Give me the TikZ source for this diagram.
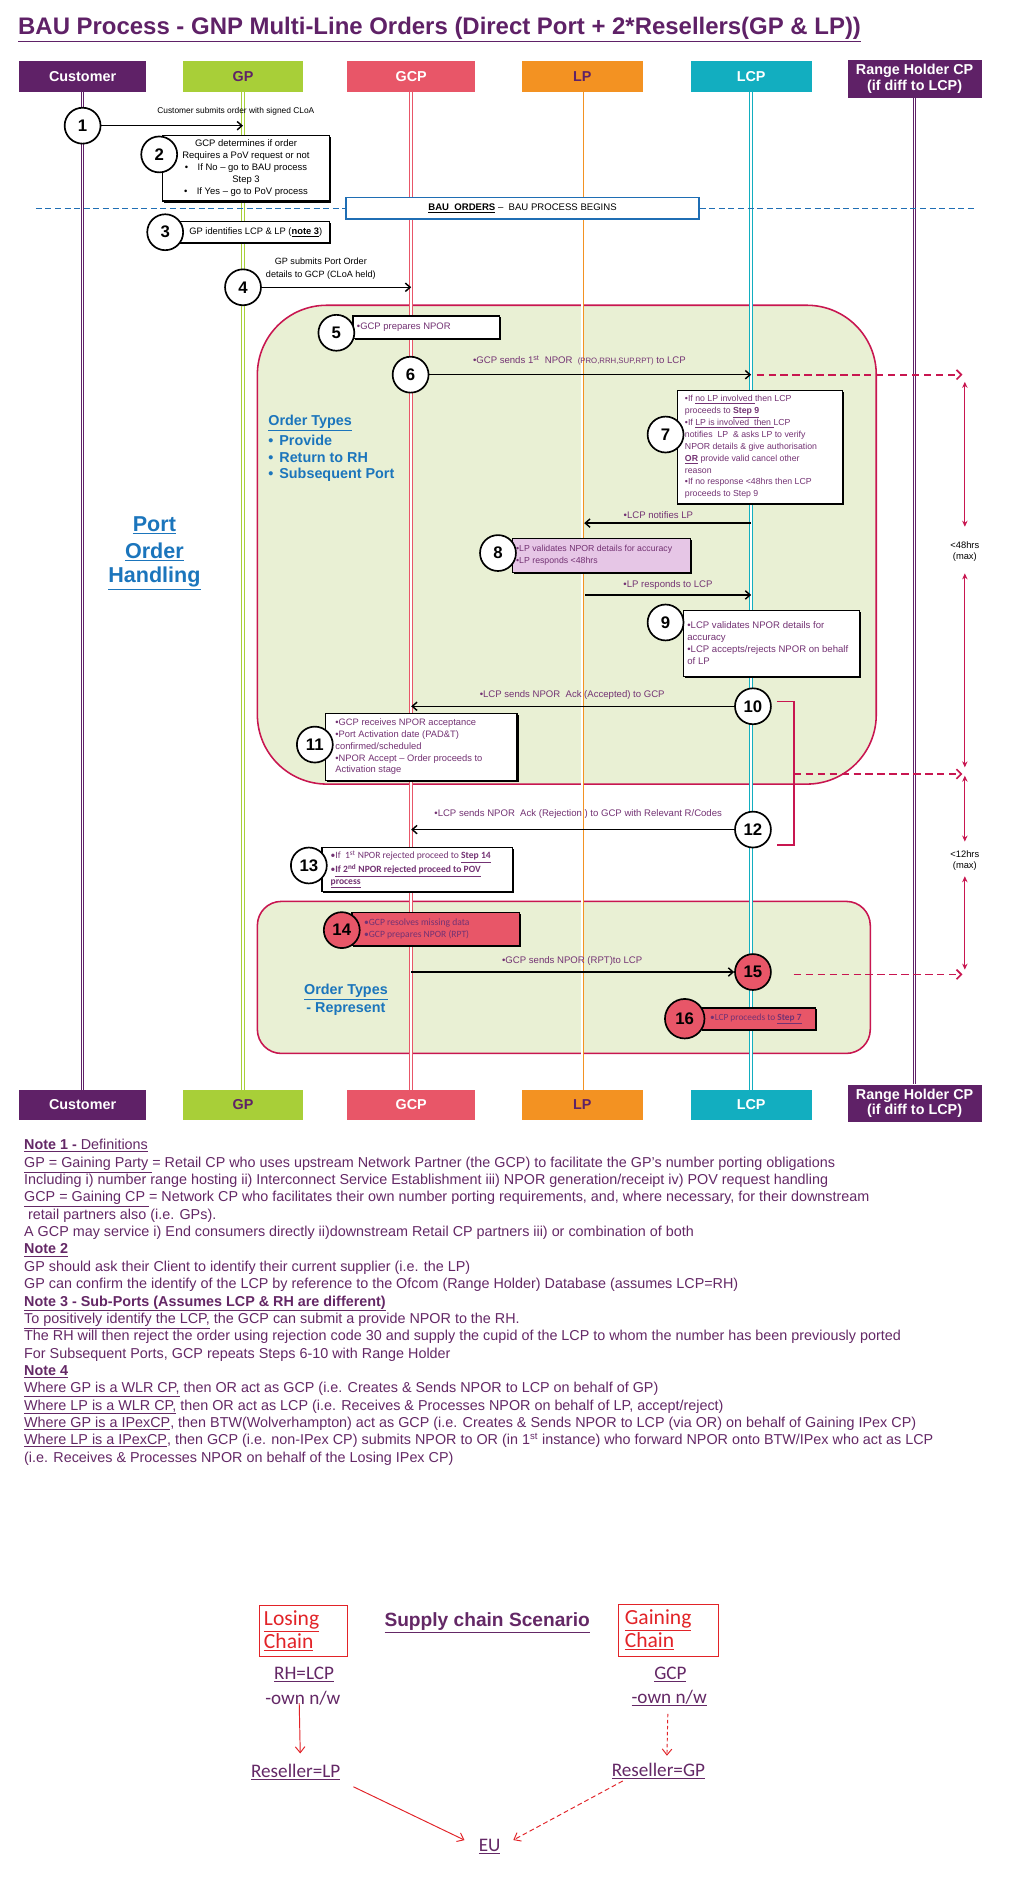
\documentclass[tikz,border=0pt]{standalone}
\usepackage{fontspec}
\setmainfont{Liberation Sans}
\newfontfamily\calfont{Carlito}
\usetikzlibrary{arrows.meta,shadows}
\definecolor{cpurple}{RGB}{95,33,103}
\definecolor{clime}{RGB}{168,207,56}
\definecolor{cgcp}{RGB}{232,86,104}
\definecolor{corange}{RGB}{243,146,34}
\definecolor{cteal}{RGB}{18,174,192}
\definecolor{ccrim}{RGB}{200,22,80}
\definecolor{cgreen}{RGB}{233,240,212}
\definecolor{cblue}{RGB}{27,117,188}
\definecolor{ctxt}{RGB}{115,50,115}
\definecolor{clav}{RGB}{230,198,230}
\definecolor{cnote}{RGB}{100,40,102}
\definecolor{cred}{RGB}{226,35,40}
\definecolor{cdblue}{RGB}{31,110,180}
\newcommand{\myfs}[2]{\fontsize{#1}{#2}\selectfont}
\begin{document}
\begin{tikzpicture}[x=1pt,y=-1pt,
 hdr/.style={rectangle, inner sep=0pt, minimum height=26pt, font=\myfs{12}{13}\bfseries, align=center},
 life/.style={line width=0.75pt, double=white, double distance=1.5pt},
 stepc/.style={circle, draw=black, line width=1.4pt, fill=white, minimum size=30pt, inner sep=0pt, font=\myfs{14}{14}\bfseries},
 redc/.style={stepc, fill=cgcp},
 nbox/.style={rectangle, draw=black, line width=1.1pt, fill=white, inner sep=0pt, general shadow={fill=black, shadow xshift=1.2pt, shadow yshift=-1.2pt}},
 btxt/.style={anchor=west, inner sep=0pt, align=left, text=ctxt, font=\myfs{7.3}{10}},
 msg/.style={draw=black, line width=1.2pt, -{Straight Barb[length=4pt,width=7pt]}},
 lbl/.style={inner sep=0pt, align=center, text=ctxt, font=\myfs{8}{10}},
 dashar/.style={draw=ccrim, line width=1.4pt, dash pattern=on 6pt off 4pt, -{Straight Barb[length=4pt,width=8pt]}},
 dimar/.style={draw=ccrim, line width=0.8pt, {Stealth[length=5pt,width=4.5pt]}-{Stealth[length=5pt,width=4.5pt]}},
 region/.style={draw=ccrim, line width=1.3pt, fill=cgreen, inner sep=0pt},
 noteline/.style={anchor=base west, inner sep=0pt, text=cnote, font=\myfs{12}{14}},
 blue/.style={inner sep=0pt, text=cblue, font=\myfs{12}{14}\bfseries},
 sc/.style={inner sep=0pt, font=\calfont\myfs{16}{18}, text=cnote},
 scarr/.style={draw=cred, line width=0.8pt, -{Straight Barb[length=5pt,width=8pt]}}
]
\useasboundingbox (0,0) rectangle (855.5,1568);
\fill[white] (0,0) rectangle (855.5,1568);

% title
\node[anchor=base west, inner sep=0pt, text=cpurple, font=\myfs{20}{24}\bfseries] (title) at (15,29)
  {\underline{BAU Process - GNP Multi-Line Orders (Direct Port + 2*Resellers(GP \& LP))}};

% regions
\node[region, rounded corners=58pt, minimum width=517pt, minimum height=400pt] (reg1) at (473.5,455) {};
\node[region, rounded corners=20pt, minimum width=512pt, minimum height=127pt] (reg2) at (471,816.5) {};

% headers top
\node[hdr, fill=cpurple, text=white, minimum width=106pt] (hcust) at (69,64) {Customer};
\node[hdr, fill=clime, text=cpurple, minimum width=100pt] (hgp) at (203,64) {GP};
\node[hdr, fill=cgcp, text=white, minimum width=107pt] (hgcp) at (343.5,64) {GCP};
\node[hdr, fill=corange, text=cpurple, minimum width=101pt] (hlp) at (486.5,64) {LP};
\node[hdr, fill=cteal, text=white, minimum width=101pt] (hlcp) at (627.5,64) {LCP};
\node[hdr, fill=cpurple, text=white, minimum width=112pt, minimum height=31pt] (hrh) at (764,66) {Range Holder CP\\(if diff to LCP)};
% headers bottom
\node[hdr, fill=cpurple, text=white, minimum width=106pt, minimum height=25pt] (bcust) at (69,923) {Customer};
\node[hdr, fill=clime, text=cpurple, minimum width=100pt, minimum height=25pt] (bgp) at (203,923) {GP};
\node[hdr, fill=cgcp, text=white, minimum width=107pt, minimum height=25pt] (bgcp) at (343.5,923) {GCP};
\node[hdr, fill=corange, text=cpurple, minimum width=101pt, minimum height=25pt] (blp) at (486.5,923) {LP};
\node[hdr, fill=cteal, text=white, minimum width=101pt, minimum height=25pt] (blcp) at (627.5,923) {LCP};
\node[hdr, fill=cpurple, text=white, minimum width=112pt, minimum height=31pt] (brh) at (764,921.5) {Range Holder CP\\(if diff to LCP)};

% lifelines
\draw[life, cpurple] (hcust.south) -- (bcust.north);
\draw[life, clime] (hgp.south) -- (bgp.north);
\draw[life, cgcp] (hgcp.south) -- (bgcp.north);
\draw[life, corange] (hlp.south) -- (blp.north);
\draw[life, cteal] (hlcp.south) -- (blcp.north);
\draw[life, cpurple] (hrh.south) -- (brh.north);

% BAU line
\node[draw=cdblue, line width=1pt, fill=white, minimum width=295pt, minimum height=18pt, inner sep=0pt, font=\myfs{8}{9}] (bau) at (436.5,174)
  {\textbf{\underline{BAU\ \ ORDERS}} --\ \ BAU PROCESS BEGINS};
\coordinate (bauL) at (30,174);
\coordinate (bauR) at (815,174);
\draw[cdblue, line width=1.2pt, dash pattern=on 5pt off 3pt] (bauL) -- (bau.west);
\draw[cdblue, line width=1.2pt, dash pattern=on 5pt off 3pt] (bau.east) -- (bauR);

% step boxes
\node[nbox, minimum width=139pt, minimum height=55pt, align=center, font=\myfs{7.9}{10}] (b2) at (205.5,140.5)
  {GCP determines if order\\Requires a PoV request or not\\\textbullet\quad If No -- go to BAU process\\Step 3\\\textbullet\quad If Yes -- go to PoV process};
\node[nbox, minimum width=125pt, minimum height=18pt] (b3) at (212.5,194) {};
\node[btxt, text=black, font=\myfs{7.8}{10}] (b3t) at (158,194) {GP identifies LCP \& LP (\textbf{\underline{note 3}})};
\node[nbox, minimum width=122pt, minimum height=19pt] (b5) at (356,273.5) {};
\node[btxt, font=\myfs{7.9}{10}] (b5t) at (298,273.5) {\textbullet GCP prepares NPOR};
\node[nbox, minimum width=138pt, minimum height=95pt] (b7) at (635,373.5) {};
\node[btxt, font=\myfs{7.3}{9.9}] (b7t) at (572,373.5)
  {\textbullet If \underline{no LP involved }then LCP\\
   proceeds to \textbf{\underline{Step 9}}\\
   \textbullet If \underline{LP is involved\ \ then }LCP\\
   notifies\ \ LP\ \ \& asks LP to verify\\
   NPOR details \& give authorisation\\
   \textbf{\underline{OR}} provide valid cancel other\\
   reason\\
   \textbullet If no response <48hrs then LCP\\
   proceeds to Step 9};
\node[nbox, fill=clav, minimum width=149pt, minimum height=28pt] (b8) at (502.5,464) {};
\node[btxt] (b8t) at (431,464) {\textbullet LP validates NPOR details for accuracy\\\textbullet LP responds <48hrs};
\node[nbox, minimum width=147pt, minimum height=55pt] (b9) at (644.5,537.5) {};
\node[btxt, font=\myfs{8}{10}] (b9t) at (574,537.5)
  {\textbullet LCP validates NPOR details for\\accuracy\\\textbullet LCP accepts/rejects NPOR on behalf\\of LP};
\node[nbox, minimum width=160pt, minimum height=56pt] (b11) at (352,624) {};
\node[btxt, font=\myfs{7.8}{9.8}] (b11t) at (280,624)
  {\textbullet GCP receives NPOR acceptance\\\textbullet Port Activation date (PAD\&T)\\confirmed/scheduled\\\textbullet NPOR Accept -- Order proceeds to\\Activation stage};
\node[nbox, minimum width=159pt, minimum height=37pt] (b13) at (348.5,726.5) {};
\node[btxt, font=\calfont\myfs{8}{10}] (b13t) at (276,726.5)
  {\textbullet If\ \ 1\textsuperscript{st} NPOR rejected proceed to \textbf{\underline{Step 14}}\\
   \textbullet\textbf{\underline{If 2\textsuperscript{nd} NPOR rejected proceed to POV}}\\
   \textbf{\underline{process}}};
\node[nbox, fill=cgcp, minimum width=140pt, minimum height=28pt] (b14) at (364,776) {};
\node[btxt, font=\calfont\myfs{8}{10}] (b14t) at (304,776) {\textbullet GCP resolves missing data\\\textbullet GCP prepares NPOR (RPT)};
\node[nbox, fill=cgcp, minimum width=96pt, minimum height=18pt] (b16) at (633,851) {};
\node[btxt, font=\calfont\myfs{7.8}{9}] (b16t) at (593,851) {\textbullet LCP proceeds to \textbf{\underline{Step 7}}};

% order types
\node[blue, anchor=west] (ot1) at (224,353) {\underline{Order Types}};
\node[blue, anchor=west] (ot2) at (224,368) {\textbullet\hspace{5pt}Provide};
\node[blue, anchor=west] (ot3) at (224,382.5) {\textbullet\hspace{5pt}Return to RH};
\node[blue, anchor=west] (ot4) at (224,397) {\textbullet\hspace{5pt}Subsequent Port};
\node[blue, font=\myfs{18}{20}\bfseries] (po1) at (129,439) {\underline{Port}};
\node[blue, font=\myfs{18}{20}\bfseries] (po2) at (129,461) {\underline{Order}};
\node[blue, font=\myfs{18}{20}\bfseries] (po3) at (129,483) {\underline{Handling}};
\node[blue] (ot5) at (289,829) {\underline{Order Types}};
\node[blue] (ot6) at (289,843) {- Represent};

% lifeline points
\coordinate (gp1) at (203,105);
\coordinate (gcp4) at (343.5,240);
\coordinate (lcp6) at (627.5,313);
\coordinate (lcpA) at (627.5,437);
\coordinate (lpA) at (488,437);
\coordinate (lpB) at (489,497);
\coordinate (lcpB) at (627.5,497);
\coordinate (gcp10) at (343.5,590);
\coordinate (gcp12) at (343.5,693);
\coordinate (gcp15) at (343.5,812);

% step circles
\node[stepc] (s1) at (69,105) {1};
\node[stepc] (s2) at (133,129) {2};
\node[stepc] (s3) at (138,194) {3};
\node[stepc] (s4) at (203,240) {4};
\node[stepc] (s5) at (281,278) {5};
\node[stepc] (s6) at (343,313) {6};
\node[stepc] (s7) at (556,363) {7};
\node[stepc] (s8) at (416,462) {8};
\node[stepc] (s9) at (556,520) {9};
\node[stepc] (s10) at (629,590) {10};
\node[stepc] (s11) at (263,622) {11};
\node[stepc] (s12) at (629,693) {12};
\node[stepc] (s13) at (258,723) {13};
\node[redc] (s14) at (285.5,777) {14};
\node[redc] (s15) at (629,812) {15};
\node[redc, minimum width=33pt] (s16) at (572,851) {16};

% messages
\draw[msg] (s1) -- (gp1);
\node[lbl, text=black, font=\myfs{7}{10}] (l1) at (197,93) {Customer submits order with signed CLoA};
\draw[msg] (s4) -- (gcp4);
\node[lbl, text=black, font=\myfs{7.6}{11}] (l4) at (268,224.5) {GP submits Port Order\\details to GCP (CLoA held)};
\draw[msg] (s6) -- (lcp6);
\node[lbl] (l6) at (484,301) {\textbullet GCP sends 1\textsuperscript{st}\ \ NPOR\ \ {\myfs{6.5}{7}(PRO,RRH,SUP,RPT)} to LCP};
\draw[msg] (lcpA) -- (lpA);
\node[lbl] (lA) at (550,430) {\textbullet LCP notifies LP};
\draw[msg] (lpB) -- (lcpB);
\node[lbl] (lB) at (558,489) {\textbullet LP responds to LCP};
\draw[msg] (s10) -- (gcp10);
\node[lbl] (l10) at (478,581) {\textbullet LCP sends NPOR\ \ Ack (Accepted) to GCP};
\draw[msg] (s12) -- (gcp12);
\node[lbl] (l12) at (483,680) {\textbullet LCP sends NPOR\ \ Ack (Rejection ) to GCP with Relevant R/Codes};
\draw[msg] (gcp15) -- (s15);
\node[lbl] (l15) at (478,803) {\textbullet GCP sends NPOR (RPT)to LCP};

% bracket and timing
\coordinate (brT) at (649,586);
\coordinate (brB) at (649,706);
\coordinate (brM) at (663,646.6);
\draw[ccrim, line width=1.5pt] (brT) -- (663,586) -- (663,706) -- (brB);
\coordinate (t6) at (632,313);
\coordinate (e6) at (804,313);
\coordinate (eM) at (804,646.6);
\coordinate (t15) at (663,814);
\coordinate (e15) at (804,814);
\draw[dashar] (t6) -- (e6);
\draw[dashar] (brM) -- (eM);
\draw[dashar] (t15) -- (e15);
\coordinate (d1a) at (806,319);
\coordinate (d1b) at (806,440);
\coordinate (d2a) at (806,479);
\coordinate (d2b) at (806,641);
\coordinate (d3a) at (806,648);
\coordinate (d3b) at (806,703);
\coordinate (d4a) at (806,732);
\coordinate (d4b) at (806,810);
\draw[dimar] (d1a) -- (d1b);
\draw[dimar] (d2a) -- (d2b);
\draw[dimar] (d3a) -- (d3b);
\draw[dimar] (d4a) -- (d4b);
\node[lbl, text=black, font=\myfs{7.8}{9.5}] (t48) at (806,461) {<48hrs\\(max)};
\node[lbl, text=black, font=\myfs{7.8}{9.5}] (t12) at (806,719) {<12hrs\\(max)};

% notes
\node[noteline] (n1) at (20,960.5) {\textbf{\underline{Note 1 -}}\underline{ Definitions}};
\node[noteline] (n2) at (20,975) {\underline{GP = Gaining Party }= Retail CP who uses upstream Network Partner (the GCP) to facilitate the GP’s number porting obligations};
\node[noteline] (n3) at (20,989.5) {Including i) number range hosting ii) Interconnect Service Establishment iii) NPOR generation/receipt iv) POV request handling};
\node[noteline] (n4) at (20,1004) {\underline{GCP = Gaining CP }= Network CP who facilitates their own number porting requirements, and, where necessary, for their downstream};
\node[noteline] (n5) at (20,1018.5) {\ retail partners also (i.e. GPs).};
\node[noteline] (n6) at (20,1033) {A GCP may service i) End consumers directly ii)downstream Retail CP partners iii) or combination of both};
\node[noteline] (n7) at (20,1047.5) {\textbf{\underline{Note 2}}};
\node[noteline] (n8) at (20,1062) {GP should ask their Client to identify their current supplier (i.e. the LP)};
\node[noteline] (n9) at (20,1076.5) {GP can confirm the identify of the LCP by reference to the Ofcom (Range Holder) Database (assumes LCP=RH)};
\node[noteline] (n10) at (20,1091) {\textbf{\underline{Note 3 - Sub-Ports (Assumes LCP \& RH are different)}}};
\node[noteline] (n11) at (20,1105.5) {\underline{To positively identify the LCP,} the GCP can submit a provide NPOR to the RH.};
\node[noteline] (n12) at (20,1120) {The RH will then reject the order using rejection code 30 and supply the cupid of the LCP to whom the number has been previously ported};
\node[noteline] (n13) at (20,1134.5) {For Subsequent Ports, GCP repeats Steps 6-10 with Range Holder};
\node[noteline] (n14) at (20,1149) {\textbf{\underline{Note 4}}};
\node[noteline] (n15) at (20,1163.5) {\underline{Where GP is a WLR CP,} then OR act as GCP (i.e. Creates \& Sends NPOR to LCP on behalf of GP)};
\node[noteline] (n16) at (20,1178) {\underline{Where LP is a WLR CP,} then OR act as LCP (i.e. Receives \& Processes NPOR on behalf of LP, accept/reject)};
\node[noteline] (n17) at (20,1192.5) {\underline{Where GP is a IPexCP}, then BTW(Wolverhampton) act as GCP (i.e. Creates \& Sends NPOR to LCP (via OR) on behalf of Gaining IPex CP)};
\node[noteline] (n18) at (20,1207) {\underline{Where LP is a IPexCP}, then GCP (i.e. non-IPex CP) submits NPOR to OR (in 1\textsuperscript{st} instance) who forward NPOR onto BTW/IPex who act as LCP};
\node[noteline] (n19) at (20,1221.5) {(i.e. Receives \& Processes NPOR on behalf of the Losing IPex CP)};

% supply chain
\node[draw=cred, line width=0.8pt, text=cred, font=\calfont\myfs{18}{19}, align=left, minimum width=73pt, minimum height=43pt, text width=66pt, inner xsep=3.5pt, inner ysep=0pt] (lose) at (253.5,1362.5)
  {\underline{Losing}\\\underline{Chain}};
\node[draw=cred, line width=0.8pt, text=cred, font=\calfont\myfs{18}{19}, align=left, minimum width=83pt, minimum height=43.5pt, text width=73pt, inner xsep=5pt, inner ysep=0pt] (gain) at (558.5,1361.75)
  {\underline{Gaining}\\\underline{Chain}};
\node[inner sep=0pt, text=cnote, font=\myfs{16}{18}\bfseries] (scen) at (407,1356) {\underline{Supply chain Scenario}};
\node[sc] (rhlcp) at (254,1399) {\underline{RH=LCP}};
\node[sc] (own1) at (253,1418.6) {-own n/w};
\node[sc] (gcpn) at (560,1399) {\underline{GCP}};
\node[sc] (own2) at (559,1418.6) {\underline{-own n/w}};
\node[sc] (reslp) at (247,1480.6) {\underline{Reseller=LP}};
\node[sc] (resgp) at (550,1479.5) {\underline{Reseller=GP}};
\node[sc] (eu) at (409,1542.8) {\underline{EU}};
\draw[scarr, shorten <=-2pt, shorten >=9pt] ([xshift=-3pt]own1.south) -- ([xshift=4pt]reslp.north);
\draw[scarr, dash pattern=on 3pt off 2pt, shorten <=6pt, shorten >=6pt] ([xshift=-1pt]own2.south) -- ([xshift=7pt]resgp.north);
\draw[scarr, shorten <=12pt, shorten >=13pt] (reslp.south east) -- (eu.west);
\draw[scarr, dash pattern=on 4pt off 2.5pt, shorten <=3pt, shorten >=12pt] ([xshift=12pt]resgp.south west) -- (eu.east);
\end{tikzpicture}
\end{document}
